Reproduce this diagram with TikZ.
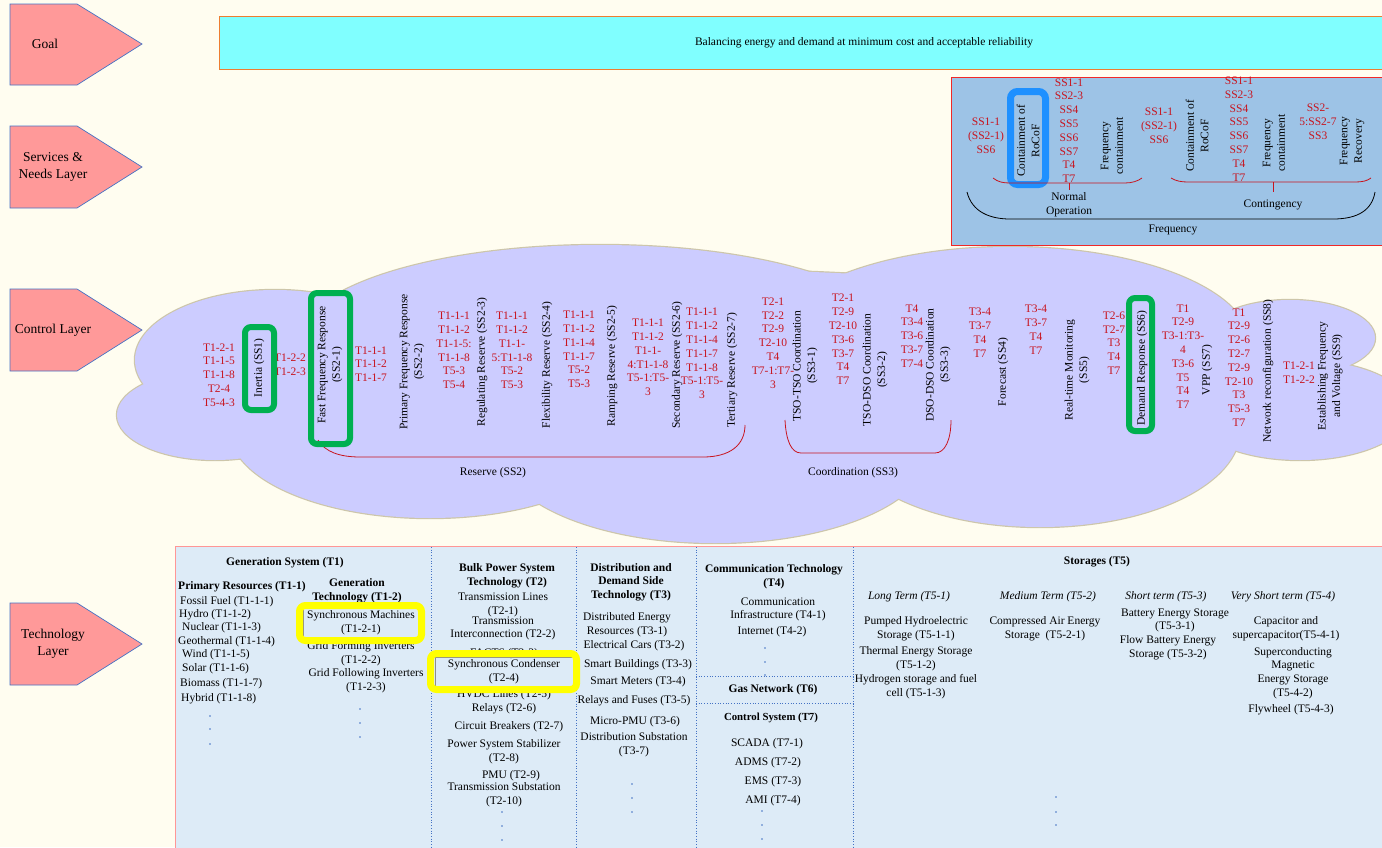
\documentclass[tikz,border=0pt]{standalone}
\usepackage{fontspec}
\setmainfont{Liberation Serif}
\definecolor{paper}{RGB}{255,253,240}
\definecolor{pentfill}{RGB}{255,153,153}
\definecolor{pentline}{RGB}{68,114,196}
\definecolor{goalfill}{RGB}{128,255,255}
\definecolor{goalline}{RGB}{237,125,49}
\definecolor{servfill}{RGB}{157,195,230}
\definecolor{servline}{RGB}{240,40,40}
\definecolor{cloudfill}{RGB}{204,204,255}
\definecolor{cloudline}{RGB}{205,198,170}
\definecolor{labred}{RGB}{200,20,30}
\definecolor{techfill}{RGB}{221,235,247}
\definecolor{techline}{RGB}{255,150,150}
\definecolor{sepblue}{RGB}{68,114,196}
\definecolor{markgreen}{RGB}{0,176,80}
\definecolor{markyellow}{RGB}{255,255,0}
\definecolor{markblue}{RGB}{30,144,255}
\begin{document}
\begin{tikzpicture}[x=1pt,y=-1pt,
  txt/.style={font=\fontsize{11.5}{13.6}\selectfont, align=center, inner sep=0pt, text=black},
  hd/.style={txt, font=\fontsize{11.5}{13.6}\selectfont\bfseries},
  ital/.style={txt, font=\fontsize{11.5}{13.6}\selectfont\itshape},
  rl/.style={txt, text=labred, font=\fontsize{11.5}{13.8}\selectfont},
  vt/.style={txt, rotate=90, font=\fontsize{11.5}{14.5}\selectfont},
  laylbl/.style={txt, font=\fontsize{13.5}{16.5}\selectfont},
  layer/.style={fill=pentfill, draw=pentline, line width=0.7pt},
  greenframe/.style={draw=markgreen, line width=6pt, rounded corners=6pt},
  yellowframe/.style={draw=markyellow, line width=7pt, rounded corners=6pt},
  blueframe/.style={draw=markblue, line width=7pt, rounded corners=7pt},
  textframe/.style={draw=black!45, line width=0.5pt},
  redbrace/.style={draw=labred, line width=0.8pt},
  blackbrace/.style={draw=black, line width=0.8pt},
  sep/.style={draw=sepblue, dotted, line width=0.7pt},
  dotmark/.style={fill=sepblue}
]
\clip (0,0) rectangle (1382,847);
\fill[paper] (0,0) rectangle (1382,847);

% ---------- control layer cloud: outline first, then the fill on top ----------
\def\cloudparts{600/340/300/95, 1010/345/240/98, 275/360/140/70, 215/415/98/45,
  1290/338/85/38, 1300/410/110/50, 1040/430/200/97, 715/450/215/93,
  430/430/200/88, 710/380/540/110}
\foreach \cx/\cy/\rx/\ry in \cloudparts
  \draw[cloudline, line width=2.4pt] (\cx,\cy) ellipse [x radius=\rx pt, y radius=\ry pt];
\foreach \cx/\cy/\rx/\ry in \cloudparts
  \fill[cloudfill] (\cx,\cy) ellipse [x radius=\rx pt, y radius=\ry pt];

% ---------- layer arrows ----------
\draw[layer] (10,4) -- (77,4) -- (142,44) -- (77,85) -- (10,85) -- cycle;
\node[laylbl] (lgoal) at (45,44) {Goal};
\draw[layer] (10,126) -- (77,126) -- (142,167) -- (77,208) -- (10,208) -- cycle;
\node[laylbl] (lserv) at (53,167) {Services \&\\Needs Layer};
\draw[layer] (10,289) -- (77,289) -- (142,330) -- (77,371) -- (10,371) -- cycle;
\node[laylbl] (lctrl) at (53,330) {Control Layer};
\draw[layer] (10,603) -- (77,603) -- (142,644) -- (77,685) -- (10,685) -- cycle;
\node[laylbl] (ltech) at (53,644) {Technology\\Layer};

% ---------- goal ----------
\draw[goalline, fill=goalfill, line width=0.9pt] (219,16) rectangle (1520,69);
\node[txt] (goal) at (864,43) {Balancing energy and demand at minimum cost and acceptable reliability};

% ---------- services & needs ----------
\draw[servline, fill=servfill, line width=1pt] (951,77) rectangle (1400,245);
\node[rl] (s1) at (986,136) {SS1-1\\(SS2-1)\\SS6};
\node[vt] (s2) at (1028,141) {Containment of\\RoCoF};
\node[rl] (s3) at (1069,130.5) {SS1-1\\SS2-3\\SS4\\SS5\\SS6\\SS7\\T4\\T7};
\node[vt] (s4) at (1112,146) {Frequency\\containment};
\node[rl] (s5) at (1159,125.5) {SS1-1\\(SS2-1)\\SS6};
\node[vt] (s6) at (1197,136) {Containment of\\RoCoF};
\node[rl] (s7) at (1239,129) {SS1-1\\SS2-3\\SS4\\SS5\\SS6\\SS7\\T4\\T7};
\node[vt] (s8) at (1274,143) {Frequency\\containment};
\node[rl] (s9) at (1318,122) {SS2-\\5:SS2-7\\SS3};
\node[vt] (s10) at (1352,141) {Frequency\\Recovery};
\draw[blueframe] (1010.5,91.5) rectangle (1045.5,184.5);
% braces
\draw[redbrace] (993,178) .. controls (998,182) and (1003,183) .. (1010,183) -- (1125,183)
  .. controls (1132,183) and (1138,181) .. (1142,178);
\draw[redbrace] (1069,183) -- (1069,190);
\draw[redbrace] (1171,178) .. controls (1176,181) and (1181,182) .. (1188,182) -- (1355,182)
  .. controls (1362,182) and (1367,181) .. (1371,178);
\draw[redbrace] (1273,182) -- (1273,192);
\node[txt] (normal) at (1069,205) {Normal\\Operation};
\node[txt] (conting) at (1273,205) {Contingency};
\draw[blackbrace] (967,192) .. controls (972,212) and (990,219) .. (1010,219) -- (1333,219)
  .. controls (1358,219) and (1372,210) .. (1375,192);
\node[txt] (freq) at (1173,230) {Frequency};

% ---------- control layer contents ----------
\node[rl] (r1) at (219,375) {T1-2-1\\T1-1-5\\T1-1-8\\T2-4\\T5-4-3};
\node[vt] (v1) at (259,368) {Inertia (SS1)};
\node[rl] (r2) at (290,364.5) {T1-2-2\\T1-2-3};
\node[vt] (v2) at (330,365) {Fast Frequency Response\\(SS2-1)};
\node[rl] (r3) at (371,364) {T1-1-1\\T1-1-2\\T1-1-7};
\node[vt] (v3) at (412,362) {Primary Frequency Response\\(SS2-2)};
\node[rl] (r4) at (454,350.5) {T1-1-1\\T1-1-2\\T1-1-5:\\T1-1-8\\T5-3\\T5-4};
\node[vt] (v4) at (482,362) {Regulating Reserve (SS2-3)};
\node[rl] (r5) at (512,350.5) {T1-1-1\\T1-1-2\\T1-1-\\5:T1-1-8\\T5-2\\T5-3};
\node[vt] (v5) at (547,365) {Flexibility Reserve (SS2-4)};
\node[rl] (r6) at (579,349.5) {T1-1-1\\T1-1-2\\T1-1-4\\T1-1-7\\T5-2\\T5-3};
\node[vt] (v6) at (612,366) {Ramping Reserve (SS2-5)};
\node[rl] (r7) at (648,357.5) {T1-1-1\\T1-1-2\\T1-1-\\4:T1-1-8\\T5-1:T5-\\3};
\node[vt] (v7) at (677,365) {Secondary Reserve (SS2-6)};
\node[rl] (r8) at (702,353.5) {T1-1-1\\T1-1-2\\T1-1-4\\T1-1-7\\T1-1-8\\T5-1:T5-\\3};
\node[vt] (v8) at (732,370) {Tertiary Reserve (SS2-7)};
\node[rl] (r9) at (773,343) {T2-1\\T2-2\\T2-9\\T2-10\\T4\\T7-1:T7-\\3};
\node[vt] (v9) at (805,366) {TSO-TSO Coordination\\(SS3-1)};
\node[rl] (r10) at (843,339.5) {T2-1\\T2-9\\T2-10\\T3-6\\T3-7\\T4\\T7};
\node[vt] (v10) at (875,370) {TSO-DSO Coordination\\(SS3-2)};
\node[rl] (r11) at (912,336) {T4\\T3-4\\T3-6\\T3-7\\T7-4};
\node[vt] (v11) at (938,365) {DSO-DSO Coordination\\(SS3-3)};
\node[rl] (r12) at (980,332.5) {T3-4\\T3-7\\T4\\T7};
\node[vt] (v12) at (1003,372) {Forecast (SS4)};
\node[rl] (r13) at (1036,329.5) {T3-4\\T3-7\\T4\\T7};
\node[vt] (v13) at (1077,370) {Real-time Monitoring\\(SS5)};
\node[rl] (r14) at (1114,343) {T2-6\\T2-7\\T3\\T4\\T7};
\node[vt] (v14) at (1142,368) {Demand Response (SS6)};
\node[rl] (r15) at (1183,356.5) {T1\\T2-9\\T3-1:T3-\\4\\T3-6\\T5\\T4\\T7};
\node[vt] (v15) at (1207,370) {VPP (SS7)};
\node[rl] (r16) at (1239,367.5) {T1\\T2-9\\T2-6\\T2-7\\T2-9\\T2-10\\T3\\T5-3\\T7};
\node[vt] (v16) at (1268,371) {Network reconfiguration (SS8)};
\node[rl] (r17) at (1299,373) {T1-2-1\\T1-2-2};
\node[vt] (v17) at (1330,376) {Establishing Frequency\\and Voltage (SS9)};
% group brackets
\draw[redbrace] (318,440) .. controls (325,452) and (340,457) .. (360,457) -- (703,457)
  .. controls (730,457) and (745,445) .. (745,425);
\node[txt] (reserve) at (493,473) {Reserve (SS2)};
\draw[redbrace] (785,420) .. controls (786,440) and (791,453) .. (801,453) -- (935,453)
  .. controls (945,453) and (951,440) .. (951,420);
\node[txt] (coord) at (853,473) {Coordination (SS3)};
% highlighted services
\draw[greenframe] (245,327) rectangle (274,410);
\draw[greenframe] (311,293) rectangle (350,444);
\draw[greenframe] (1129,298) rectangle (1152,431);

% ---------- technology layer ----------
\draw[techline, fill=techfill, line width=1pt] (175,546) rectangle (1400,860);
\foreach \x in {431,576,696,853} \draw[sep] (\x,547) -- (\x,847);
\draw[sep] (696,676) -- (853,676);
\draw[sep] (696,703) -- (853,703);

% generation system
\node[hd] (t1) at (285,563) {Generation System (T1)};
\node[hd] (t11) at (242,587) {Primary Resources (T1-1)};
\node[hd] (t12) at (357,590.5) {Generation\\Technology (T1-2)};
\node[txt, anchor=west] (t111) at (180,602) {Fossil Fuel (T1-1-1)};
\node[txt, anchor=west] (t112) at (179,615) {Hydro (T1-1-2)};
\node[txt, anchor=west] (t113) at (182,628) {Nuclear (T1-1-3)};
\node[txt, anchor=west] (t114) at (178,642) {Geothermal (T1-1-4)};
\node[txt, anchor=west] (t115) at (182,655) {Wind (T1-1-5)};
\node[txt, anchor=west] (t116) at (182,669) {Solar (T1-1-6)};
\node[txt, anchor=west] (t117) at (180,684) {Biomass (T1-1-7)};
\node[txt, anchor=west] (t118) at (181,699) {Hybrid (T1-1-8)};
\foreach \y in {716,729,744} \fill[dotmark] (210,\y) circle [radius=0.8pt];
\node[txt] (t121) at (361,623) {Synchronous Machines\\(T1-2-1)};
\node[txt] (t122) at (361,653.5) {Grid Forming Inverters\\(T1-2-2)};
\node[txt] (t123) at (366,681) {Grid Following Inverters\\(T1-2-3)};
\foreach \y in {709,723,737} \fill[dotmark] (360,\y) circle [radius=0.8pt];

% bulk power system
\node[hd] (t2) at (507,576) {Bulk Power System\\Technology (T2)};
\node[txt] (t21) at (503,605) {Transmission Lines\\(T2-1)};
\node[txt] (t22) at (503,628.5) {Transmission\\Interconnection (T2-2)};
\node[txt] (t23) at (504,654) {FACTS (T2-3)};
\node[txt] (t24) at (504,671.5) {Synchronous Condenser\\(T2-4)};
\node[txt] (t25) at (504,695) {HVDC Lines (T2-5)};
\node[txt] (t26) at (504,709) {Relays (T2-6)};
\node[txt] (t27) at (509,727) {Circuit Breakers (T2-7)};
\node[txt] (t28) at (504,752) {Power System Stabilizer\\(T2-8)};
\node[txt] (t29) at (511,776) {PMU (T2-9)};
\node[txt] (t210) at (504,795) {Transmission Substation\\(T2-10)};
\foreach \y in {812,826,840} \fill[dotmark] (502,\y) circle [radius=0.8pt];

% distribution and demand side
\node[hd] (t3) at (631,582) {Distribution and\\Demand Side\\Technology (T3)};
\node[txt] (t31) at (627,624.5) {Distributed Energy\\Resources (T3-1)};
\node[txt] (t32) at (634,646) {Electrical Cars (T3-2)};
\node[txt] (t33) at (638,665) {Smart Buildings (T3-3)};
\node[txt] (t34) at (638,682) {Smart Meters (T3-4)};
\node[txt] (t35) at (634,701) {Relays and Fuses (T3-5)};
\node[txt] (t36) at (635,722) {Micro-PMU (T3-6)};
\node[txt] (t37) at (634,745) {Distribution Substation\\(T3-7)};
\foreach \y in {784,798,812} \fill[dotmark] (632,\y) circle [radius=0.8pt];

% communication, gas network, control system
\node[hd] (t4) at (774,577) {Communication Technology\\(T4)};
\node[txt] (t41) at (778,609.5) {Communication\\Infrastructure (T4-1)};
\node[txt] (t42) at (772,632) {Internet (T4-2)};
\foreach \y in {648,662,675} \fill[dotmark] (765,\y) circle [radius=0.8pt];
\node[hd] (t6) at (773,690) {Gas Network (T6)};
\node[hd, font=\fontsize{10.8}{13}\selectfont\bfseries] (t7) at (771,718) {Control System (T7)};
\node[txt] (t71) at (767,744) {SCADA (T7-1)};
\node[txt] (t72) at (768,763) {ADMS (T7-2)};
\node[txt] (t73) at (773,782) {EMS (T7-3)};
\node[txt] (t74) at (773,801) {AMI (T7-4)};
\foreach \y in {811,825,839} \fill[dotmark] (762,\y) circle [radius=0.8pt];

% storages
\node[hd] (t5) at (1097,562) {Storages (T5)};
\node[ital] (t51) at (909,597) {Long Term (T5-1)};
\node[ital] (t52) at (1048,597) {Medium Term (T5-2)};
\node[ital] (t53) at (1166,597) {Short term (T5-3)};
\node[ital] (t54) at (1283,597) {Very Short term (T5-4)};
\node[txt] (t511) at (916,628.5) {Pumped Hydroelectric\\Storage (T5-1-1)};
\node[txt] (t512) at (916,659) {Thermal Energy Storage\\(T5-1-2)};
\node[txt] (t513) at (916,686.5) {Hydrogen storage and fuel\\cell (T5-1-3)};
\node[txt] (t521) at (1045,628.5) {Compressed Air Energy\\Storage\ \ (T5-2-1)};
\node[txt] (t531) at (1175,620.5) {Battery Energy Storage\\(T5-3-1)};
\node[txt] (t532) at (1168,647.5) {Flow Battery Energy\\Storage (T5-3-2)};
\node[txt] (t541) at (1286,629) {Capacitor and\\supercapacitor(T5-4-1)};
\node[txt] (t542) at (1293,673) {Superconducting\\Magnetic\\Energy Storage\\(T5-4-2)};
\node[txt] (t543) at (1291,710) {Flywheel (T5-4-3)};
\foreach \y in {797,812,825} \fill[dotmark] (1056,\y) circle [radius=0.8pt];

% highlighted technologies
\draw[textframe] (303,608) rectangle (418,638);
\draw[yellowframe] (299.5,605.5) rectangle (421.5,640.5);
\draw[textframe] (435,657) rectangle (573,687);
\draw[yellowframe] (430.5,653.5) rectangle (576.5,689.5);
\end{tikzpicture}
\end{document}
